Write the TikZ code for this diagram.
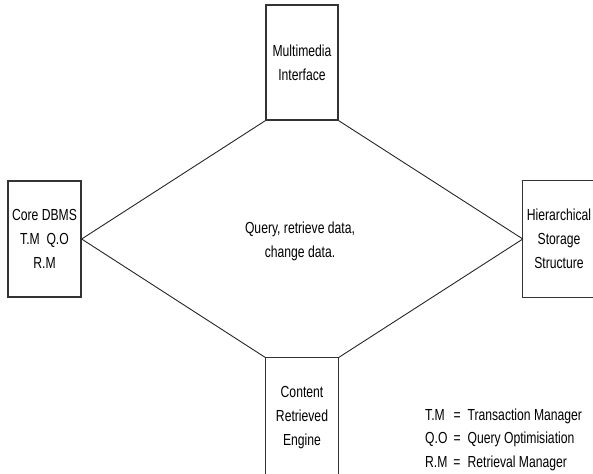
\documentclass[tikz,border=0pt]{standalone}
\usepackage{fontspec}
\newfontfamily\nar{Liberation Sans}[FakeStretch=0.76]
\begin{document}
\begin{tikzpicture}[x=1pt,y=-1pt,
  lbl/.style={font=\nar\fontsize{16}{24}\selectfont, align=center, text=black},
  boxn/.style={lbl, rectangle, inner sep=0pt, minimum width=72pt},
  edge/.style={draw=black!80, line width=1.3pt},
  link/.style={draw=black!85, line width=0.9pt}]
\useasboundingbox (0,0) rectangle (593,473);
\clip (0,0) rectangle (593,473);
\node[boxn, minimum height=115pt, edge] (top) at (302,62.5) {Multimedia\\Interface};
\node[boxn, minimum width=73pt, minimum height=116pt, edge] (core) at (44.5,239) {Core DBMS\\T.M\ \ Q.O\\R.M};
\node[boxn, minimum height=116pt] (hss) at (559,239) {Hierarchical\\Storage\\Structure};
\node[boxn, minimum height=120pt] (cre) at (302,418) {Content\\Retrieved\\Engine};
\draw[edge] (hss.north east) -- (hss.north west) -- (hss.south west) -- (hss.south east);
\draw[edge] (cre.south west) -- (cre.north west) -- (cre.north east) -- (cre.south east);
\draw[link] (core.east) -- (top.south west);
\draw[link] (top.south east) -- (hss.west);
\draw[link] (hss.west) -- (cre.north east);
\draw[link] (cre.north west) -- (core.east);
\node[lbl] (mid) at (300,241) {Query, retrieve data,\\change data.};
\node[lbl, anchor=north west, inner sep=0pt] (legend) at (425,403) {%
\renewcommand{\arraystretch}{1.0}%
\begin{tabular}{@{}l@{\hspace{6pt}=\hspace{7pt}}l@{}}
T.M & Transaction Manager\\[-0.5pt]
Q.O & Query Optimisiation\\[-0.5pt]
R.M & Retrieval Manager
\end{tabular}};
\end{tikzpicture}
\end{document}
